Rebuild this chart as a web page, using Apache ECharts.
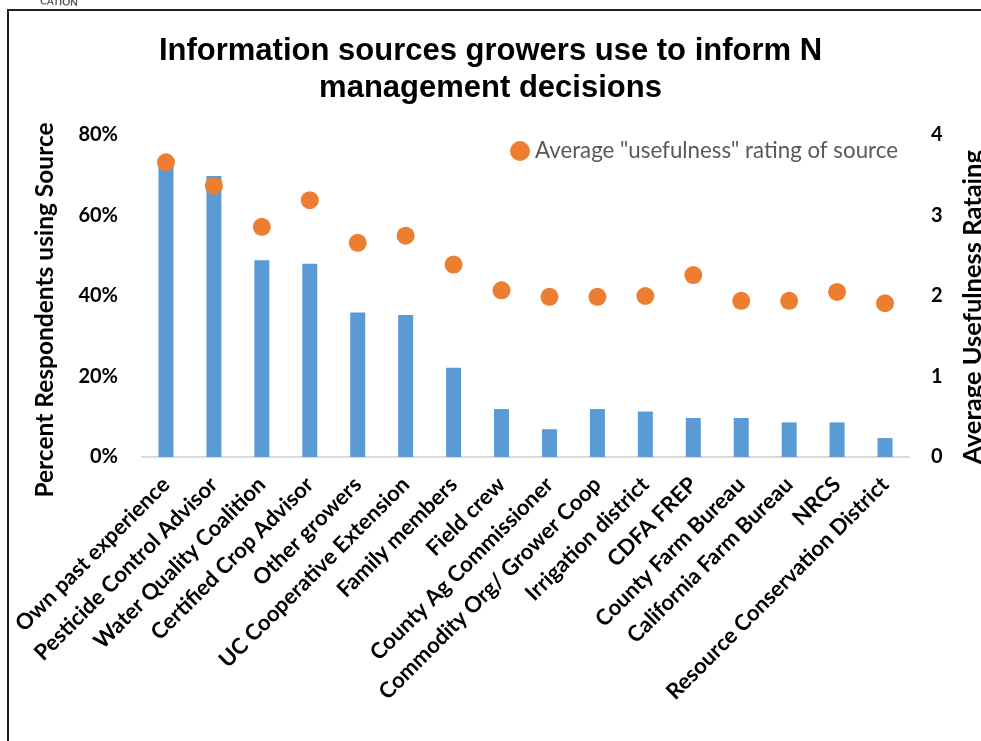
<!DOCTYPE html>
<html><head><meta charset="utf-8">
<script src="https://cdn.jsdelivr.net/npm/echarts@6/dist/echarts.min.js"></script>
<style>html,body{margin:0;padding:0;background:#fff}#c{width:981px;height:741px}</style>
</head><body><div id="c"></div>
<script>
const categories = ["Own past experience","Pesticide Control Advisor","Water Quality Coalition","Certified Crop Advisor","Other growers","UC Cooperative Extension","Family members","Field crew","County Ag Commissioner","Commodity Org/ Grower Coop","Irrigation district","CDFA FREP","County Farm Bureau","California Farm Bureau","NRCS","Resource Conservation District"];
const percentUsing = [73.5, 69.8, 48.9, 48.0, 35.9, 35.3, 22.2, 11.9, 6.9, 11.9, 11.3, 9.7, 9.7, 8.6, 8.6, 4.7];
const usefulness = [3.66, 3.37, 2.86, 3.19, 2.66, 2.75, 2.39, 2.07, 1.99, 1.99, 2.00, 2.26, 1.94, 1.94, 2.05, 1.91];
const leftTicks = [0, 20, 40, 60, 80];
const rightTicks = [0, 1, 2, 3, 4];

const chart = echarts.init(document.getElementById('c'));
const F = 'Lato, "Open Sans", sans-serif';
chart.setOption({
  animation: false,
  title: {
    text: 'Information sources growers use to inform N\nmanagement decisions',
    left: 'center', top: 28,
    textStyle: {fontFamily: '"Liberation Sans", Arial, sans-serif', fontWeight: 'bold', fontSize: 31, lineHeight: 37, color: '#000'}
  },
  legend: {
    data: ['Average "usefulness" rating of source'],
    left: 505, top: 135, icon: 'circle', itemWidth: 20, itemHeight: 20, itemGap: 2,
    textStyle: {fontFamily: F, fontSize: 22.3, color: '#595959'}
  },
  grid: {left: 142, right: 72, top: 135, bottom: 284, containLabel: false, outerBoundsMode: 'none'},
  xAxis: {
    type: 'category', data: categories,
    axisLine: {lineStyle: {color: '#d9d9d9', width: 2}},
    axisTick: {show: false},
    axisLabel: {interval: 0, rotate: 45, fontFamily: F, fontWeight: 'bold', fontSize: 22, color: '#000', margin: 24}
  },
  yAxis: [
    {type: 'value', min: leftTicks[0], max: leftTicks[leftTicks.length-1], interval: 20,
     name: 'Percent Respondents using Source', nameLocation: 'middle', nameRotate: 90, nameGap: 84,
     nameTextStyle: {fontFamily: F, fontWeight: 'bold', fontSize: 24.5, color: '#000', padding: [0, 28, 0, 0]},
     axisLine: {show: false}, axisTick: {show: false}, splitLine: {show: false},
     axisLabel: {formatter: '{value}%', fontFamily: F, fontWeight: 'bold', fontSize: 20, color: '#000', margin: 24}},
    {type: 'value', min: rightTicks[0], max: rightTicks[rightTicks.length-1], interval: 1, position: 'right',
     name: 'Average Usefulness Rataing', nameLocation: 'middle', nameRotate: 90, nameGap: 51,
     nameTextStyle: {fontFamily: F, fontWeight: 'bold', fontSize: 25.5, color: '#000', padding: [0, 22, 0, 0]},
     axisLine: {show: false}, axisTick: {show: false}, splitLine: {show: false},
     axisLabel: {fontFamily: F, fontWeight: 'bold', fontSize: 20, color: '#000', margin: 22}}
  ],
  series: [
    {name: 'Percent using source', type: 'bar', data: percentUsing, barWidth: 15, itemStyle: {color: '#5b9bd5'}, yAxisIndex: 0},
    {name: 'Average "usefulness" rating of source', type: 'scatter', data: usefulness, yAxisIndex: 1, symbolSize: 18, itemStyle: {color: '#ed7d31', opacity: 1}, z: 5}
  ],
  graphic: [
    {type: 'polyline', shape: {points: [[8, 741], [8, 10], [981, 10]]}, style: {stroke: '#222', lineWidth: 2, fill: null}},
    {type: 'text', left: 40, top: -4, style: {text: 'CATION', fontFamily: F, fontWeight: 'bold', fontSize: 10, fill: '#555'}, rotation: -0.05}
  ]
});
</script></body></html>
